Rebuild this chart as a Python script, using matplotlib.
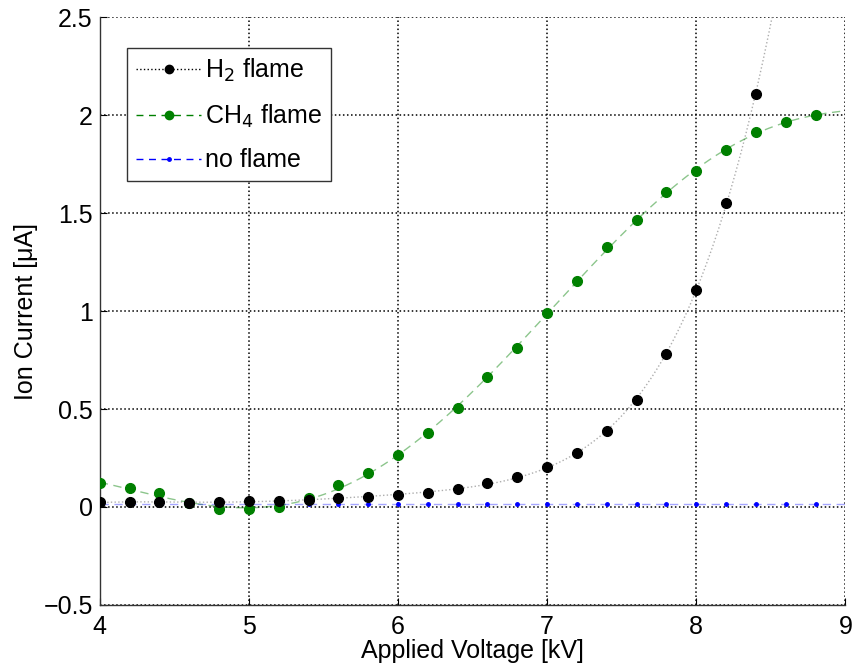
import matplotlib
matplotlib.use('Agg')
import matplotlib.pyplot as plt
from matplotlib.lines import Line2D
import numpy as np

plt.rcParams['font.family'] = ['Liberation Sans Narrow', 'Liberation Sans', 'DejaVu Sans']

# measured points
voltage = [4.0, 4.2, 4.4, 4.6, 4.8, 5.0, 5.2, 5.4, 5.6, 5.8, 6.0, 6.2, 6.4,
           6.6, 6.8, 7.0, 7.2, 7.4, 7.6, 7.8, 8.0, 8.2, 8.4, 8.6, 8.8]
h2_current = [0.024, 0.024, 0.024, 0.022, 0.027, 0.031, 0.032, 0.036, 0.044,
              0.053, 0.061, 0.073, 0.090, 0.122, 0.153, 0.206, 0.277, 0.390,
              0.544, 0.782, 1.110, 1.550, 2.110]
ch4_current = [0.120, 0.095, 0.070, 0.019, -0.012, -0.012, 0.002, 0.044, 0.112,
               0.175, 0.265, 0.380, 0.505, 0.662, 0.810, 0.991, 1.153, 1.327,
               1.464, 1.606, 1.714, 1.820, 1.913, 1.964, 2.000]
noflame_current = [0.016, 0.016, 0.015, 0.015, 0.016, 0.015, 0.015, 0.016,
                   0.015, 0.015, 0.016, 0.015, 0.015, 0.015, 0.016, 0.015,
                   0.015, 0.015, 0.016, 0.015, 0.015, 0.016, 0.015, 0.015, 0.016]

xv = np.array(voltage)
xh = xv[:len(h2_current)]

fig = plt.figure(figsize=(8.53, 6.64), dpi=100)
ax = fig.add_axes([0.117, 0.089, 0.874, 0.885])

xf = np.linspace(4, 9, 400)
# fitted curves (from the data)
h2_fit = np.poly1d(np.polyfit(xh, h2_current, 6))
ch4_fit = np.poly1d(np.polyfit(xv, ch4_current, 6))
nf_fit = np.poly1d(np.polyfit(xv, noflame_current, 1))

ax.plot(xf, h2_fit(xf), ':', color='0.6', lw=1.0, alpha=0.8)
ax.plot(xf, ch4_fit(xf), '--', color='green', lw=1.0, alpha=0.45, dashes=(6, 4))
ax.plot(xf, nf_fit(xf), '--', color='blue', lw=1.0, alpha=0.35, dashes=(6, 4))

ax.plot(xv, noflame_current, 'o', color='blue', ms=2.5, zorder=3)
ax.plot(xv, ch4_current, 'o', color='green', ms=7, mec='green', zorder=4)
ax.plot(xh, h2_current, 'o', color='black', ms=7, zorder=5)

ax.set_xlim(4, 9)
ax.set_ylim(-0.5, 2.5)
ax.set_xticks([4, 5, 6, 7, 8, 9])
ax.set_yticks([-0.5, 0, 0.5, 1, 1.5, 2, 2.5])
ax.set_yticklabels(['\u22120.5', '0', '0.5', '1', '1.5', '2', '2.5'])
ax.tick_params(direction='in', labelsize=18, length=5, width=0.8, top=False, right=False)
ax.tick_params(axis='x', pad=7)
ax.tick_params(axis='y', pad=5)
ax.grid(True, linestyle=':', color='black', linewidth=1.1)
ax.spines['top'].set_visible(False)
ax.spines['right'].set_visible(False)
for s in ['left', 'bottom']:
    ax.spines[s].set_linewidth(1.0)
    ax.spines[s].set_color('0.2')

ax.set_xlabel('Applied Voltage [kV]', fontsize=18, labelpad=0)
ax.set_ylabel('Ion Current [\u03bcA]', fontsize=18, labelpad=4)

handles = [
    Line2D([], [], ls=':', color='black', marker='o', ms=6, lw=1.0),
    Line2D([], [], ls='--', color='green', marker='o', ms=6, lw=1.0, dashes=(5, 4)),
    Line2D([], [], ls='--', color='blue', marker='o', ms=2.5, lw=1.0, dashes=(5, 4)),
]
labels = ['H$_2$ flame', 'CH$_4$ flame', 'no flame']
leg = ax.legend(handles, labels, loc='upper left', bbox_to_anchor=(0.037, 0.948),
                fontsize=18, fancybox=False, framealpha=1, edgecolor='0.2',
                handlelength=2.6, handletextpad=0.15, borderpad=0.35,
                labelspacing=0.75, borderaxespad=0)
leg.get_frame().set_linewidth(1.0)

fig.savefig('out.png', dpi=100)
